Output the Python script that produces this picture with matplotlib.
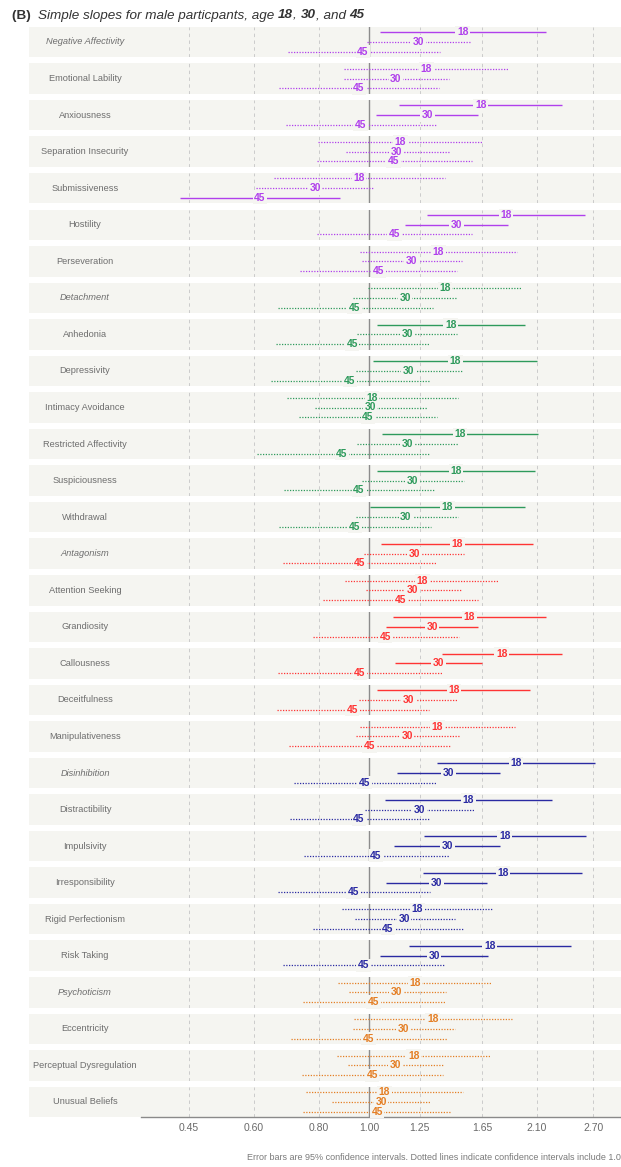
import numpy as np
import matplotlib
matplotlib.use("Agg")
import matplotlib.pyplot as plt
from matplotlib.patches import Rectangle

plt.rcParams['font.family'] = ['Liberation Sans', 'DejaVu Sans']

# ---- data -----------------------------------------------------------------
traits = [
    "Negative Affectivity", "Emotional Lability", "Anxiousness",
    "Separation Insecurity", "Submissiveness", "Hostility", "Perseveration",
    "Detachment", "Anhedonia", "Depressivity", "Intimacy Avoidance",
    "Restricted Affectivity", "Suspiciousness", "Withdrawal",
    "Antagonism", "Attention Seeking", "Grandiosity", "Callousness",
    "Deceitfulness", "Manipulativeness",
    "Disinhibition", "Distractibility", "Impulsivity", "Irresponsibility",
    "Rigid Perfectionism", "Risk Taking",
    "Psychoticism", "Eccentricity", "Perceptual Dysregulation", "Unusual Beliefs",
]
domain_names = ["Negative Affectivity", "Detachment", "Antagonism",
                "Disinhibition", "Psychoticism"]
trait_domain = [0] * 7 + [1] * 7 + [2] * 6 + [3] * 6 + [4] * 4
domain_colors = ["#B040EC", "#2E9A5C", "#FF3434", "#2A2AA2", "#E47E24"]

ages = ["18", "30", "45"]

# odds ratios with 95% CI, age 18
est_18 = [1.512, 1.287, 1.638, 1.147, 0.955, 1.832, 1.358,
          1.398, 1.434, 1.464, 1.013, 1.495, 1.468, 1.413,
          1.477, 1.265, 1.558, 1.797, 1.455, 1.352,
          1.915, 1.551, 1.822, 1.806, 1.237, 1.704,
          1.224, 1.324, 1.217, 1.069]
lo_18 = [1.048, 0.894, 1.142, 0.797, 0.655, 1.293, 0.959,
         0.993, 1.033, 1.018, 0.693, 1.056, 1.035, 1.003,
         1.053, 0.898, 1.112, 1.378, 1.036, 0.959,
         1.348, 1.072, 1.272, 1.270, 0.885, 1.190,
         0.869, 0.933, 0.866, 0.754]
hi_18 = [2.185, 1.851, 2.345, 1.648, 1.398, 2.600, 1.921,
         1.970, 1.990, 2.099, 1.479, 2.115, 2.084, 1.990,
         2.068, 1.779, 2.185, 2.345, 2.038, 1.904,
         2.722, 2.247, 2.608, 2.566, 1.732, 2.448,
         1.725, 1.879, 1.714, 1.517]

# age 30
est_30 = [1.243, 1.125, 1.293, 1.129, 0.787, 1.470, 1.206,
          1.171, 1.182, 1.189, 1.003, 1.183, 1.212, 1.176,
          1.219, 1.210, 1.320, 1.360, 1.190, 1.182,
          1.421, 1.250, 1.413, 1.346, 1.166, 1.332,
          1.127, 1.164, 1.122, 1.053]
lo_30 = [0.991, 0.895, 1.031, 0.903, 0.604, 1.171, 0.969,
         0.932, 0.948, 0.941, 0.785, 0.948, 0.968, 0.941,
         0.977, 0.984, 1.078, 1.122, 0.957, 0.944,
         1.130, 0.982, 1.117, 1.077, 0.938, 1.048,
         0.912, 0.929, 0.911, 0.846]
hi_30 = [1.562, 1.421, 1.621, 1.423, 1.022, 1.846, 1.506,
         1.466, 1.473, 1.506, 1.293, 1.483, 1.521, 1.479,
         1.521, 1.506, 1.616, 1.650, 1.483, 1.488,
         1.787, 1.592, 1.787, 1.687, 1.460, 1.692,
         1.403, 1.462, 1.394, 1.314]

# age 45
est_45 = [0.972, 0.955, 0.962, 1.112, 0.616, 1.117, 1.041,
          0.937, 0.927, 0.918, 0.994, 0.886, 0.955, 0.938,
          0.959, 1.147, 1.073, 0.959, 0.927, 1.000,
          0.979, 0.955, 1.030, 0.933, 1.085, 0.975,
          1.019, 0.996, 1.013, 1.035]
lo_45 = [0.698, 0.670, 0.691, 0.792, 0.432, 0.794, 0.736,
         0.668, 0.660, 0.648, 0.733, 0.609, 0.685, 0.671,
         0.681, 0.816, 0.780, 0.668, 0.665, 0.700,
         0.716, 0.705, 0.749, 0.668, 0.779, 0.683,
         0.746, 0.707, 0.742, 0.746]
hi_45 = [1.368, 1.364, 1.344, 1.574, 0.878, 1.574, 1.473,
         1.324, 1.308, 1.303, 1.348, 1.301, 1.340, 1.314,
         1.352, 1.616, 1.486, 1.382, 1.303, 1.428,
         1.344, 1.301, 1.421, 1.308, 1.523, 1.394,
         1.398, 1.411, 1.388, 1.436]

tick_vals = [0.45, 0.60, 0.80, 1.00, 1.25, 1.65, 2.10, 2.70]
tick_labels = ["0.45", "0.60", "0.80", "1.00", "1.25", "1.65", "2.10", "2.70"]

series = [(est_18, lo_18, hi_18), (est_30, lo_30, hi_30), (est_45, lo_45, hi_45)]

# ---- layout ---------------------------------------------------------------
W, H = 621, 1167
fig = plt.figure(figsize=(W / 100, H / 100), dpi=100)
fig.patch.set_facecolor("white")

panel_bg = "#F5F5F1"
strip_left, plot_left, plot_right = 29, 141, 621
first_center, period, panel_h = 42.0, 36.55, 30.5
xlim = (0.3636, 3.05)


def fx(px):
    return px / W


def fy(py):
    return 1 - py / H


axes = []
for i, name in enumerate(traits):
    cy = first_center + i * period
    top = cy - panel_h / 2
    ax = fig.add_axes([fx(plot_left), fy(top + panel_h),
                       fx(plot_right - plot_left), panel_h / H])
    ax.set_facecolor(panel_bg)
    ax.set_xscale("log")
    ax.set_xlim(*xlim)
    ax.set_ylim(0.428, 3.572)
    for s in ax.spines.values():
        s.set_visible(False)
    ax.set_yticks([])
    ax.minorticks_off()
    ax.set_xticks(tick_vals)
    ax.tick_params(axis="x", length=0)
    ax.set_xticklabels([])
    for tv in tick_vals:
        if tv == 1.0:
            ax.axvline(tv, color="#8C8C8C", lw=1.0, zorder=1)
        else:
            ax.axvline(tv, color="#CBCBCB", lw=0.7, ls=(0, (3.5, 3.5)), zorder=1)

    # strip on the left
    fig.patches.append(Rectangle((fx(strip_left), fy(top + panel_h)),
                                 fx(plot_left - strip_left), panel_h / H,
                                 transform=fig.transFigure, facecolor=panel_bg,
                                 edgecolor="none", zorder=0))
    fig.text(fx(85), fy(cy), name, ha="center", va="center", fontsize=6.7,
             color="#6E6E6E",
             fontstyle="italic" if name in domain_names else "normal")

    color = domain_colors[trait_domain[i]]
    for k, (est, lo, hi) in enumerate(series):
        yy = 3 - k
        significant = lo[i] > 1 or hi[i] < 1
        ls = "-" if significant else (0, (1, 1.2))
        lw = 1.0 if significant else 0.9
        ax.plot([lo[i], hi[i]], [yy, yy], color=color, lw=lw, ls=ls,
                solid_capstyle="butt", zorder=2)
        # background patch that breaks the interval line around the label
        ax.text(est[i], yy, ages[k], ha="center", va="center", fontsize=7.4,
                fontweight="bold", color=(0, 0, 0, 0), zorder=3,
                bbox=dict(boxstyle="square,pad=0.15", facecolor=panel_bg,
                          edgecolor="none"))
        ax.text(est[i], yy, ages[k], ha="center", va="center", fontsize=7.4,
                fontweight="bold", color=color, zorder=4)
    axes.append(ax)

# bottom axis on the last panel
last = axes[-1]
last.spines["bottom"].set_visible(True)
last.spines["bottom"].set_color("#8A8A8A")
last.spines["bottom"].set_linewidth(1.0)
last.set_xticklabels(tick_labels)
last.tick_params(axis="x", length=0, pad=4, labelsize=7.5, labelcolor="#6A6A6A")

# ---- title ----------------------------------------------------------------
renderer = fig.canvas.get_renderer()
runs = [("(B)  ", "bold", "normal"),
        ("Simple slopes for male particpants, age ", "normal", "italic"),
        ("18", "bold", "italic"), (", ", "normal", "italic"),
        ("30", "bold", "italic"), (", and ", "normal", "italic"),
        ("45", "bold", "italic")]
x = fx(12)
for s, wgt, sty in runs:
    t = fig.text(x, fy(18.5), s, ha="left", va="baseline", fontsize=9.7,
                 fontweight=wgt, fontstyle=sty, color="#333333")
    bb = t.get_window_extent(renderer)
    x += bb.width / fig.bbox.width

fig.text(0.999, fy(1157), "Error bars are 95% confidence intervals. Dotted lines "
         "indicate confidence intervals include 1.0", ha="right", va="center",
         fontsize=6.5, color="#7A7A7A")

fig.savefig("out.png", dpi=100)
